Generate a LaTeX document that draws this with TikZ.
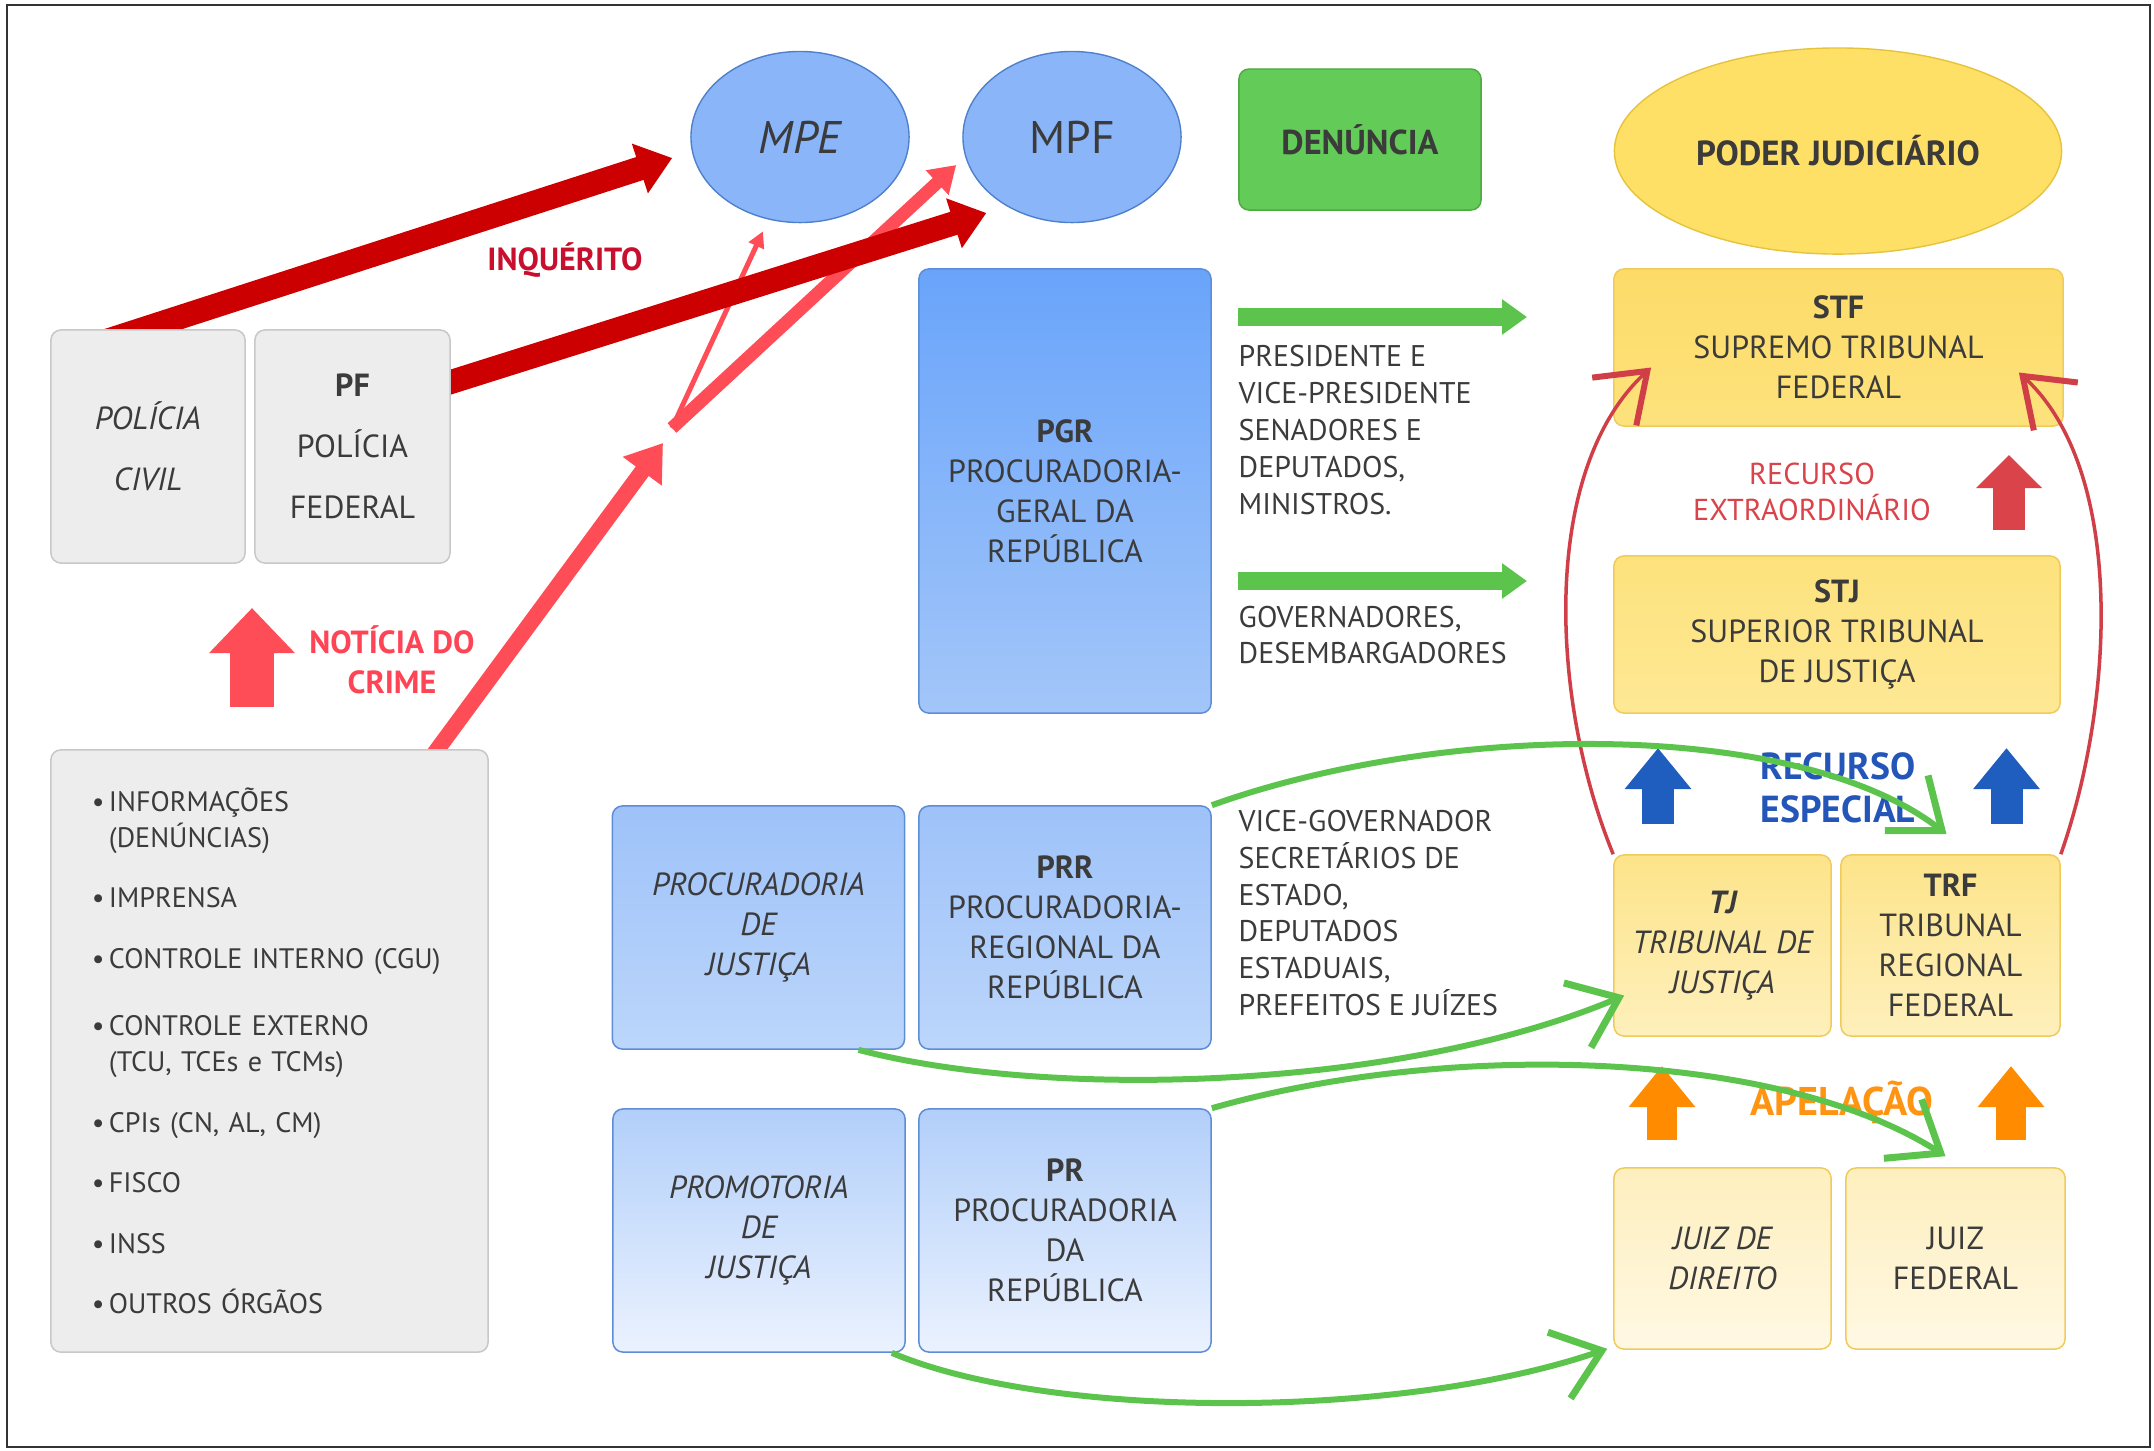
\documentclass[tikz,border=0pt]{standalone}
\usepackage{fontspec}
\setmainfont{PT Sans}
\usetikzlibrary{arrows.meta,shapes.geometric,backgrounds}

\definecolor{inkGray}{HTML}{3B3B3B}
\definecolor{frameGray}{HTML}{333333}
\definecolor{boxGray}{HTML}{EDEDED}
\definecolor{boxGrayLine}{HTML}{C8C8C8}
\definecolor{mpBlue}{HTML}{8AB6F9}
\definecolor{mpBlueLine}{HTML}{4F80CC}
\definecolor{pgrTop}{HTML}{69A4FA}
\definecolor{pgrBottom}{HTML}{A3C6F9}
\definecolor{prrTop}{HTML}{9EC2F9}
\definecolor{prrBottom}{HTML}{BCD6FB}
\definecolor{prTop}{HTML}{B2CFFA}
\definecolor{prBottom}{HTML}{EBF2FE}
\definecolor{blueLine}{HTML}{5E8DD8}
\definecolor{denGreen}{HTML}{63CB57}
\definecolor{denGreenLine}{HTML}{4CA840}
\definecolor{poderYellow}{HTML}{FFE066}
\definecolor{poderLine}{HTML}{E6C33C}
\definecolor{stfTop}{HTML}{FCDB68}
\definecolor{stfBottom}{HTML}{FDE27C}
\definecolor{stjTop}{HTML}{FDE27C}
\definecolor{stjBottom}{HTML}{FEE895}
\definecolor{tjTop}{HTML}{FDE48A}
\definecolor{tjBottom}{HTML}{FEF0BC}
\definecolor{juizTop}{HTML}{FEEFBE}
\definecolor{juizBottom}{HTML}{FFF8E3}
\definecolor{yellowLine}{HTML}{EFCB5C}
\definecolor{arrowGreen}{HTML}{5CC44C}
\definecolor{darkRed}{HTML}{CC0000}
\definecolor{lightRed}{HTML}{FF4D57}
\definecolor{inqRed}{HTML}{C8102E}
\definecolor{noticiaRed}{HTML}{FF4455}
\definecolor{extraRed}{HTML}{D94349}
\definecolor{curveRed}{HTML}{D03E48}
\definecolor{espBlue}{HTML}{1F5DBE}
\definecolor{espText}{HTML}{2356B8}
\definecolor{apOrange}{HTML}{FF8C00}
\definecolor{apText}{HTML}{FF9412}

\newcommand{\boxfont}{\fontsize{9.1}{11.4}\selectfont}
\newcommand{\sidefont}{\fontsize{8.5}{10.5}\selectfont}
\newcommand{\listfont}{\fontsize{8}{10.2}\selectfont}
\newcommand{\bigfont}{\fontsize{13}{15}\selectfont}
\newcommand{\tagfont}{\fontsize{10.7}{12.2}\selectfont\bfseries}
\newcommand{\bul}{\makebox[0.17cm][l]{\textbullet}}
\newcommand{\ind}{\hspace*{0.17cm}}

\begin{document}
\begin{tikzpicture}[x=0.01cm, y=-0.01cm,
  every node/.style={text=inkGray, font=\boxfont, align=center, inner sep=0pt},
  graybox/.style={draw=boxGrayLine, fill=boxGray, rounded corners=1mm, line width=0.15mm},
  mpcircle/.style={ellipse, draw=mpBlueLine, fill=mpBlue, minimum width=2.18cm, minimum height=1.71cm, font=\bigfont},
  bluebox/.style={draw=blueLine, rounded corners=1mm, line width=0.15mm, minimum width=2.92cm, minimum height=2.43cm},
  yellowbox/.style={draw=yellowLine, rounded corners=1mm, line width=0.15mm},
  sidetext/.style={anchor=west, align=left, font=\sidefont},
  bararrow/.style={line width=1.8mm, draw=arrowGreen, -{Triangle[length=2.5mm, width=3.4mm]}},
  inqarrow/.style={line width=2.4mm, draw=darkRed, -{Triangle[length=3.4mm, width=5mm]}},
  upblock/.style={line width=3.2mm, -{Triangle[length=4.1mm, width=6.4mm]}},
  greencurve/.style={draw=arrowGreen, line width=0.6mm, -{Straight Barb[length=4.5mm, width=7mm, line width=0.7mm]}},
  redcurve/.style={draw=curveRed, line width=0.35mm, -{Straight Barb[length=4.5mm, width=6.5mm, line width=0.6mm]}},
]
\useasboundingbox (0,0) rectangle (2154,1450);
\draw[frameGray, line width=0.2mm] (7,5) rectangle (2150,1447);

% Ministerio Publico
\node[mpcircle] (mpe) at (800,137) {\itshape MPE};
\node[mpcircle] (mpf) at (1072,137) {MPF};
\node[draw=denGreenLine, fill=denGreen, rounded corners=1mm, minimum width=2.42cm, minimum height=1.41cm, font=\fontsize{9.8}{11}\selectfont\bfseries] (denuncia) at (1360,139.5) {DENÚNCIA};
\node[ellipse, draw=poderLine, fill=poderYellow, minimum width=4.47cm, minimum height=2.06cm, font=\fontsize{9.9}{11}\selectfont\bfseries] (poder) at (1838,151) {PODER JUDICIÁRIO};

% policias e fontes
\node[graybox, minimum width=1.94cm, minimum height=2.33cm, font=\fontsize{9.1}{17.4}\selectfont\itshape] (civil) at (148,446.5) {POLÍCIA\\CIVIL};
\node[graybox, minimum width=1.95cm, minimum height=2.33cm, font=\fontsize{9.1}{17.4}\selectfont] (pf) at (352.5,446.5) {\textbf{PF}\\POLÍCIA\\FEDERAL};
\node[graybox, minimum width=4.37cm, minimum height=6.02cm, text width=3.55cm, align=left, font=\listfont] (info) at (269.5,1051) {%
  \bul INFORMAÇÕES\\\ind(DENÚNCIAS)\\[7pt]
  \bul IMPRENSA\\[7pt]
  \bul CONTROLE INTERNO (CGU)\\[9pt]
  \bul CONTROLE EXTERNO\\\ind(TCU, TCEs e TCMs)\\[7pt]
  \bul CPIs (CN, AL, CM)\\[7pt]
  \bul FISCO\\[7pt]
  \bul INSS\\[7pt]
  \bul OUTROS ÓRGÃOS};

% procuradorias
\node[bluebox, minimum height=4.44cm, top color=pgrTop, bottom color=pgrBottom] (pgr) at (1065,491) {\textbf{PGR}\\PROCURADORIA-\\GERAL DA\\REPÚBLICA};
\node[bluebox, top color=prrTop, bottom color=prrBottom, font=\boxfont\itshape] (procj) at (758.5,927.5) {PROCURADORIA\\DE\\JUSTIÇA};
\node[bluebox, top color=prrTop, bottom color=prrBottom] (prr) at (1065,927.5) {\textbf{PRR}\\PROCURADORIA-\\REGIONAL DA\\REPÚBLICA};
\node[bluebox, top color=prTop, bottom color=prBottom, font=\boxfont\itshape] (promj) at (759,1230.5) {PROMOTORIA\\DE\\JUSTIÇA};
\node[bluebox, top color=prTop, bottom color=prBottom] (pr) at (1065,1230.5) {\textbf{PR}\\PROCURADORIA\\DA\\REPÚBLICA};

% tribunais
\node[yellowbox, minimum width=4.49cm, minimum height=1.57cm, top color=stfTop, bottom color=stfBottom] (stf) at (1838.5,347.5) {\textbf{STF}\\SUPREMO TRIBUNAL\\FEDERAL};
\node[yellowbox, minimum width=4.46cm, minimum height=1.57cm, top color=stjTop, bottom color=stjBottom] (stj) at (1837,634.5) {\textbf{STJ}\\SUPERIOR TRIBUNAL\\DE JUSTIÇA};
\node[yellowbox, minimum width=2.17cm, minimum height=1.81cm, top color=tjTop, bottom color=tjBottom, font=\boxfont\itshape] (tj) at (1722.5,945.5) {\textbf{TJ}\\TRIBUNAL DE\\JUSTIÇA};
\node[yellowbox, minimum width=2.19cm, minimum height=1.81cm, top color=tjTop, bottom color=tjBottom] (trf) at (1950.5,945.5) {\textbf{TRF}\\TRIBUNAL\\REGIONAL\\FEDERAL};
\node[yellowbox, minimum width=2.17cm, minimum height=1.81cm, top color=juizTop, bottom color=juizBottom, font=\boxfont\itshape] (juizd) at (1722.5,1258.5) {JUIZ DE\\DIREITO};
\node[yellowbox, minimum width=2.19cm, minimum height=1.81cm, top color=juizTop, bottom color=juizBottom] (juizf) at (1955.5,1258.5) {JUIZ\\FEDERAL};

% textos laterais
\node[sidetext] (presText) at (1238,430) {PRESIDENTE E\\VICE-PRESIDENTE\\SENADORES E\\DEPUTADOS,\\MINISTROS.};
\node[sidetext] (govText) at (1238,635) {GOVERNADORES,\\DESEMBARGADORES};
\node[sidetext] (viceText) at (1238,913) {VICE-GOVERNADOR\\SECRETÁRIOS DE\\ESTADO,\\DEPUTADOS\\ESTADUAIS,\\PREFEITOS E JUÍZES};

\coordinate (stfTail) at (1238,317);
\coordinate (stfHead) at (1527,317);
\coordinate (stjTail) at (1238,581);
\coordinate (stjHead) at (1527,581);
\draw[bararrow] (stfTail) -- (stfHead);
\draw[bararrow] (stjTail) -- (stjHead);

% inquerito e noticia do crime
\node[font=\boxfont\bfseries, text=inqRed] (inqLabel) at (565,260) {INQUÉRITO};
\node[font=\boxfont\bfseries, text=noticiaRed] (noticiaLabel) at (392,660) {NOTÍCIA DO\\CRIME};
\coordinate (noticiaBase) at (252,707);
\coordinate (noticiaTip) at (252,608);
\draw[upblock, draw=lightRed, line width=4.3mm, -{Triangle[length=4.5mm, width=8.3mm]}] (noticiaBase) -- (noticiaTip);
\coordinate (forkTip) at (663,443);
\coordinate (fork) at (672,428);
\begin{scope}[on background layer]
\draw[lightRed, line width=1.6mm, -{Triangle[length=3.5mm, width=4.6mm]}] ([shift={(-66,20)}]info.north east) -- (forkTip);
\draw[lightRed, line width=1.3mm, -{Triangle[length=2.6mm, width=3.2mm]}] (fork) -- ([shift={(-6,28)}]mpf.west);
\draw[lightRed, line width=0.5mm, -{Triangle[length=1.6mm, width=1.6mm]}] (fork) -- ([shift={(-37,8)}]mpe.south);
\draw[inqarrow] ([shift={(-67,20)}]civil.north) -- ([shift={(-18,21)}]mpe.west);
\draw[inqarrow] ([shift={(-30,-55)}]pf.east) -- ([shift={(-8,15)}]mpf.south west);
\end{scope}

% recursos
\node[font=\fontsize{8.6}{10.3}\selectfont, text=extraRed] (extraLabel) at (1812,492) {RECURSO\\EXTRAORDINÁRIO};
\draw[upblock, draw=extraRed, -{Triangle[length=3.3mm, width=6.4mm]}] (2009,530) -- (2009,455);
\node[font=\tagfont, text=espText] (espLabel) at (1838,788) {RECURSO\\ESPECIAL};
\foreach \x in {1658,2006.5} {
  \draw[upblock, draw=espBlue] (\x,824) -- (\x,748);
}
\node[font=\fontsize{11.4}{13}\selectfont\bfseries, text=apText] (apLabel) at (1842,1102) {APELAÇÃO};
\foreach \x in {1662,2011} {
  \draw[upblock, draw=apOrange, line width=3mm] (\x,1140) -- (\x,1066);
}

\draw[redcurve] (tj.north west) .. controls (1550,700) and (1540,470) .. ([shift={(38,20)}]stf.west);
\draw[redcurve] (trf.north east) .. controls (2115,700) and (2125,470) .. ([shift={(-45,25)}]stf.east);

% competencias
\draw[greencurve] (prr.north east) .. controls (1450,720) and (1800,720) .. ([shift={(-4,-20)}]trf.north);
\draw[greencurve] ([shift={(100,0)}]procj.south) .. controls (1050,1100) and (1400,1090) .. ([shift={(11,50)}]tj.west);
\draw[greencurve] (pr.north east) .. controls (1450,1040) and (1780,1050) .. ([shift={(-10,-11)}]juizf.north);
\draw[greencurve] ([shift={(-14,0)}]promj.south east) .. controls (1050,1420) and (1400,1420) .. ([shift={(-6,-1)}]juizd.south west);
\end{tikzpicture}
\end{document}
